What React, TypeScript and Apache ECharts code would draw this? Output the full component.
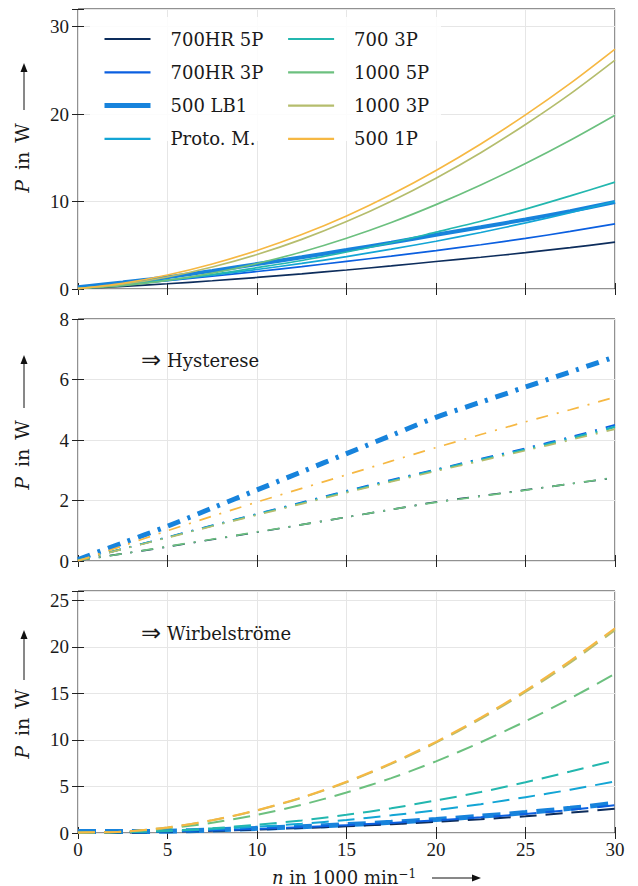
import React, { useEffect, useRef } from "react";
import * as echarts from "echarts";

// Speed n in 1000 min^-1
const speeds = [0, 2.5, 5, 7.5, 10, 12.5, 15, 17.5, 20, 22.5, 25, 27.5, 30];

const seriesNames = ["700HR 5P", "700HR 3P", "500 LB1", "Proto. M.", "700 3P", "1000 5P", "1000 3P", "500 1P"];
const seriesColors = ["#0d2d5c", "#0b5fe0", "#1783dc", "#13a5d5", "#23b7af", "#6cc07f", "#b5bd6d", "#f6b843"];

// Total losses P in W (top panel)
const totalLoss = [
  [0.07, 0.3, 0.6, 0.94, 1.32, 1.73, 2.17, 2.64, 3.14, 3.63, 4.15, 4.73, 5.35],
  [0.13, 0.5, 0.96, 1.46, 2.0, 2.56, 3.16, 3.76, 4.39, 5.06, 5.78, 6.58, 7.45],
  [0.2, 0.75, 1.35, 2.07, 2.85, 3.63, 4.45, 5.3, 6.2, 7.05, 7.95, 8.9, 9.95],
  [0.13, 0.5, 0.98, 1.57, 2.23, 2.92, 3.7, 4.56, 5.46, 6.46, 7.55, 8.72, 10.0],
  [0.08, 0.48, 1.03, 1.66, 2.44, 3.26, 4.23, 5.29, 6.5, 7.74, 9.13, 10.64, 12.22],
  [0.05, 0.37, 0.98, 1.82, 2.91, 4.23, 5.8, 7.6, 9.64, 11.89, 14.34, 17.0, 19.86],
  [0.07, 0.54, 1.37, 2.51, 3.94, 5.67, 7.71, 10.04, 12.67, 15.58, 18.8, 22.3, 26.16],
  [0.05, 0.65, 1.6, 2.86, 4.4, 6.22, 8.35, 10.8, 13.55, 16.58, 19.9, 23.5, 27.42],
];

// Hysteresis losses P in W (middle panel)
const hysteresisLoss = [
  [0.02, 0.24, 0.47, 0.71, 0.95, 1.2, 1.45, 1.7, 1.95, 2.15, 2.35, 2.55, 2.75],
  [0.03, 0.4, 0.79, 1.18, 1.56, 1.94, 2.32, 2.68, 3.03, 3.38, 3.73, 4.1, 4.5],
  [0.05, 0.6, 1.15, 1.75, 2.35, 2.95, 3.55, 4.15, 4.75, 5.25, 5.75, 6.25, 6.75],
  [0.03, 0.4, 0.78, 1.17, 1.55, 1.92, 2.3, 2.66, 3.01, 3.36, 3.7, 4.07, 4.45],
  [0.03, 0.4, 0.78, 1.16, 1.54, 1.91, 2.28, 2.64, 3.0, 3.34, 3.68, 4.04, 4.42],
  [0.02, 0.24, 0.48, 0.72, 0.96, 1.2, 1.45, 1.7, 1.94, 2.14, 2.34, 2.55, 2.76],
  [0.02, 0.39, 0.77, 1.15, 1.52, 1.89, 2.26, 2.62, 2.97, 3.31, 3.65, 4.0, 4.36],
  [0.0, 0.5, 1.0, 1.48, 1.95, 2.4, 2.85, 3.3, 3.75, 4.18, 4.6, 5.0, 5.42],
];

// Eddy current losses P in W (bottom panel)
const eddyLoss = [
  [0.05, 0.06, 0.13, 0.23, 0.37, 0.53, 0.72, 0.94, 1.19, 1.48, 1.8, 2.18, 2.6],
  [0.1, 0.1, 0.17, 0.28, 0.44, 0.62, 0.84, 1.08, 1.36, 1.68, 2.05, 2.48, 2.98],
  [0.15, 0.15, 0.2, 0.32, 0.5, 0.68, 0.9, 1.15, 1.45, 1.8, 2.2, 2.65, 3.2],
  [0.1, 0.1, 0.2, 0.4, 0.68, 1.0, 1.4, 1.9, 2.45, 3.1, 3.85, 4.65, 5.55],
  [0.05, 0.08, 0.25, 0.5, 0.9, 1.35, 1.95, 2.65, 3.5, 4.4, 5.45, 6.6, 7.8],
  [0.03, 0.13, 0.5, 1.1, 1.95, 3.03, 4.35, 5.9, 7.7, 9.75, 12.0, 14.45, 17.1],
  [0.05, 0.15, 0.6, 1.36, 2.42, 3.78, 5.45, 7.42, 9.7, 12.27, 15.15, 18.3, 21.8],
  [0.05, 0.15, 0.6, 1.38, 2.45, 3.82, 5.5, 7.5, 9.8, 12.4, 15.3, 18.5, 22.0],
];

const panelYMax = [32, 8, 26];
const panelYStep = [10, 2, 5];
const xTickLabels = ["0", "5", "10", "15", "20", "25", "30"];

const FONT = "DejaVu Serif";
const TICKFONT = "Liberation Serif";
const INK = "#1a1a1a";

export default function App() {
  const ref = useRef<HTMLDivElement>(null);

  useEffect(() => {
    document.body.style.margin = "0";
    if (!ref.current) return;
    const chart = echarts.init(ref.current, null, { renderer: "svg" });

    const grids = [
      { left: 78, top: 9, width: 537, height: 280, show: true, borderColor: "#222", borderWidth: 1 },
      { left: 78, top: 319, width: 537, height: 242, show: true, borderColor: "#222", borderWidth: 1 },
      { left: 78, top: 591, width: 537, height: 242, show: true, borderColor: "#222", borderWidth: 1 },
    ];

    const xAxis: any[] = [];
    const yAxis: any[] = [];
    grids.forEach((_, g) => {
      const base = {
        type: "value",
        gridIndex: g,
        min: 0,
        max: 30,
        interval: 5,
        axisLine: { show: false },
        axisTick: { show: true, inside: true, length: 6, lineStyle: { color: "#222" } },
      };
      xAxis.push({
        ...base,
        position: "bottom",
        splitLine: { show: true, lineStyle: { color: "#e6e6e6", width: 1 } },
        axisLabel: {
          show: g === 2,
          margin: 7,
          fontFamily: TICKFONT,
          fontSize: 19,
          color: INK,
          formatter: (v: number) => xTickLabels[Math.round(v / 5)] ?? "",
        },
      });
      xAxis.push({ ...base, position: "top", splitLine: { show: false }, axisLabel: { show: false } });
      const ybase = {
        type: "value",
        gridIndex: g,
        min: 0,
        max: panelYMax[g],
        interval: panelYStep[g],
        axisLine: { show: false },
        axisTick: { show: true, inside: true, length: 6, lineStyle: { color: "#222" } },
      };
      yAxis.push({
        ...ybase,
        position: "left",
        splitLine: { show: true, lineStyle: { color: "#e6e6e6", width: 1 } },
        axisLabel: {
          margin: 9,
          fontFamily: TICKFONT,
          fontSize: 19,
          color: INK,
          formatter: (v: number) => (Math.abs(v % panelYStep[g]) < 1e-9 ? String(v) : ""),
        },
      });
      yAxis.push({ ...ybase, position: "right", splitLine: { show: false }, axisLabel: { show: false } });
    });

    const series: any[] = [];
    const panels = [totalLoss, hysteresisLoss, eddyLoss];
    const thin = [1.7, 1.7, 2];
    const thick = [4, 5, 5];
    const dashThin: any[] = ["solid", [12, 9, 2, 9], [17, 9]];
    const dashThick: any[] = ["solid", [13, 8, 3, 8], [18, 9]];
    panels.forEach((panel, g) => {
      seriesNames.forEach((name, k) => {
        const isThick = k === 2;
        series.push({
          type: "line",
          name: g === 0 ? name : `${name} (${g})`,
          xAxisIndex: 2 * g,
          yAxisIndex: 2 * g,
          data: speeds.map((x, j) => [x, panel[k][j]]),
          showSymbol: false,
          symbol: "none",
          smooth: 0.3,
          z: isThick ? 2 : 3,
          lineStyle: {
            color: seriesColors[k],
            width: isThick ? thick[g] : thin[g],
            type: isThick ? dashThick[g] : dashThin[g],
            cap: "butt",
          },
          itemStyle: { color: seriesColors[k] },
          emphasis: { disabled: true },
        });
      });
    });

    const legendData = (names: string[]) =>
      names.map((n) => ({ name: n, lineStyle: { width: n === "500 LB1" ? 5 : 2.2 } }));

    const legendCommon = {
      orient: "vertical",
      top: 30,
      padding: 0,
      itemWidth: 46,
      itemHeight: 14,
      itemGap: 15.3,
      selectedMode: false,
      itemStyle: { opacity: 0 },
      textStyle: { fontFamily: FONT, fontSize: 18, color: INK, padding: [0, 0, 0, 15] },
    };

    const arrowUp = (x: number, tip: number, bottom: number) => [
      { type: "line", shape: { x1: x, y1: bottom, x2: x, y2: tip + 7 }, style: { stroke: "#111", lineWidth: 1 }, z: 10 },
      {
        type: "polygon",
        shape: { points: [[x, tip], [x - 3.5, tip + 9], [x + 3.5, tip + 9]] },
        style: { fill: "#111" },
        z: 10,
      },
    ];
    const yLabel = (cy: number) => ({
      type: "text",
      x: 22,
      y: cy,
      rotation: Math.PI / 2,
      z: 10,
      style: {
        text: "{i|P} {t|in} W",
        fontFamily: FONT,
        fontSize: 19,
        fill: INK,
        align: "center",
        verticalAlign: "middle",
        rich: {
          i: { fontStyle: "italic", fontFamily: FONT, fontSize: 19, fill: INK, padding: [0, 2, 0, 0] },
          t: { fontFamily: FONT, fontSize: 19, fill: INK, padding: [0, 3, 0, 2] },
        },
      },
    });
    const note = (y: number, label: string) => ({
      type: "text",
      x: 141,
      y,
      z: 10,
      style: {
        text: `{a|⇒}{b|${label}}`,
        verticalAlign: "middle",
        rich: {
          a: { fontFamily: "DejaVu Sans", fontSize: 24, fill: INK, padding: [0, 6, 0, 0] },
          b: { fontFamily: FONT, fontSize: 18, fill: INK },
        },
      },
    });

    const option: any = {
      animation: false,
      grid: grids,
      xAxis,
      yAxis,
      series,
      legend: [
        { ...legendCommon, left: 102, data: legendData(seriesNames.slice(0, 4)) },
        { ...legendCommon, left: 287, data: legendData(seriesNames.slice(4)) },
      ],
      graphic: [
        {
          type: "rect",
          shape: { x: 90, y: 17, width: 351, height: 124 },
          style: { fill: "rgba(255,255,255,0.85)" },
          z: 1,
          silent: true,
        },
        note(360, "Hysterese"),
        note(633, "Wirbelströme"),
        yLabel(158),
        ...arrowUp(24, 63, 110),
        yLabel(455),
        ...arrowUp(24, 355, 408),
        yLabel(724),
        ...arrowUp(24, 630, 680),
        {
          type: "text",
          x: 272,
          y: 877,
          z: 10,
          style: {
            text: "{i|n} in 1000 min{s|−1}",
            fontFamily: FONT,
            fontSize: 18,
            fill: INK,
            verticalAlign: "middle",
            rich: {
              i: { fontStyle: "italic", fontFamily: FONT, fontSize: 18, fill: INK },
              s: { fontFamily: FONT, fontSize: 12, fill: INK, verticalAlign: "top" },
            },
          },
        },
        { type: "line", shape: { x1: 432, y1: 878, x2: 473, y2: 878 }, style: { stroke: "#111", lineWidth: 1 }, z: 10 },
        {
          type: "polygon",
          shape: { points: [[481, 878], [472, 874.5], [472, 881.5]] },
          style: { fill: "#111" },
          z: 10,
        },
      ],
    };

    chart.setOption(option);
    return () => chart.dispose();
  }, []);

  return <div ref={ref} style={{ width: 638, height: 886 }} />;
}
